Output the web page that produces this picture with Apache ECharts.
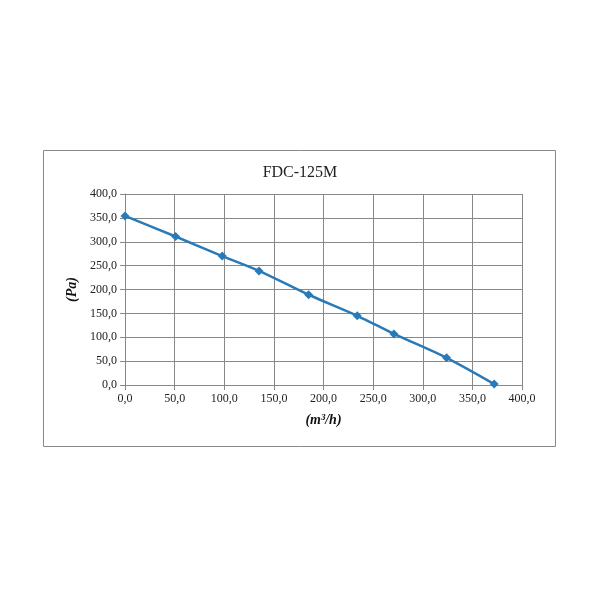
<!DOCTYPE html>
<html>
<head>
<meta charset="utf-8">
<script src="https://cdn.jsdelivr.net/npm/echarts@6/dist/echarts.min.js"></script>
</head>
<body style="margin:0">
<div id="main" style="width:600px;height:600px;"></div>
<script>
var flow = [0, 51, 98, 135, 185, 234, 271, 324, 372];
var pressure = [354, 311, 270, 239, 189, 145, 107, 57, 2];
var title = 'FDC-125M';

var fmt = function (v) { return v.toFixed(1).replace('.', ','); };
var font = 'Liberation Serif';

var myChart = echarts.init(document.getElementById('main'));
myChart.setOption({
    animation: false,
    textStyle: { fontFamily: font },
    graphic: [{
        type: 'rect', shape: { x: 43.5, y: 150.5, width: 512, height: 296 },
        style: { fill: '#fff', stroke: '#888', lineWidth: 1 }, z: -10
    }],
    title: {
        text: title, left: 'center', top: 160,
        textStyle: { fontFamily: font, fontSize: 16, fontWeight: 'normal', color: '#222' }
    },
    grid: { left: 125, right: 78, top: 194, bottom: 215 },
    xAxis: {
        type: 'value', min: 0, max: 400, interval: 50,
        name: '(m³/h)', nameLocation: 'middle', nameGap: 28,
        nameTextStyle: { fontFamily: font, fontSize: 14, fontWeight: 'bold', fontStyle: 'italic', color: '#111' },
        axisLine: { lineStyle: { color: '#888' } },
        axisTick: { show: true, lineStyle: { color: '#888' } },
        axisLabel: { formatter: fmt, color: '#222', fontSize: 12, fontFamily: font },
        splitLine: { lineStyle: { color: '#888' } }
    },
    yAxis: {
        type: 'value', min: 0, max: 400, interval: 50,
        name: '(Pa)', nameLocation: 'middle', nameGap: 17, nameRotate: 90,
        nameTextStyle: { fontFamily: font, fontSize: 14, fontWeight: 'bold', fontStyle: 'italic', color: '#111' },
        axisLine: { show: true, lineStyle: { color: '#888' } },
        axisTick: { show: true, lineStyle: { color: '#888' } },
        axisLabel: { formatter: fmt, color: '#222', fontSize: 12, fontFamily: font },
        splitLine: { lineStyle: { color: '#888' } }
    },
    series: [{
        type: 'line',
        data: flow.map(function (x, i) { return [x, pressure[i]]; }),
        smooth: 0.3,
        symbol: 'diamond', symbolSize: 9,
        lineStyle: { color: '#2a7ab8', width: 2.5 },
        itemStyle: { color: '#2a7ab8' }
    }]
});
</script>
</body>
</html>
